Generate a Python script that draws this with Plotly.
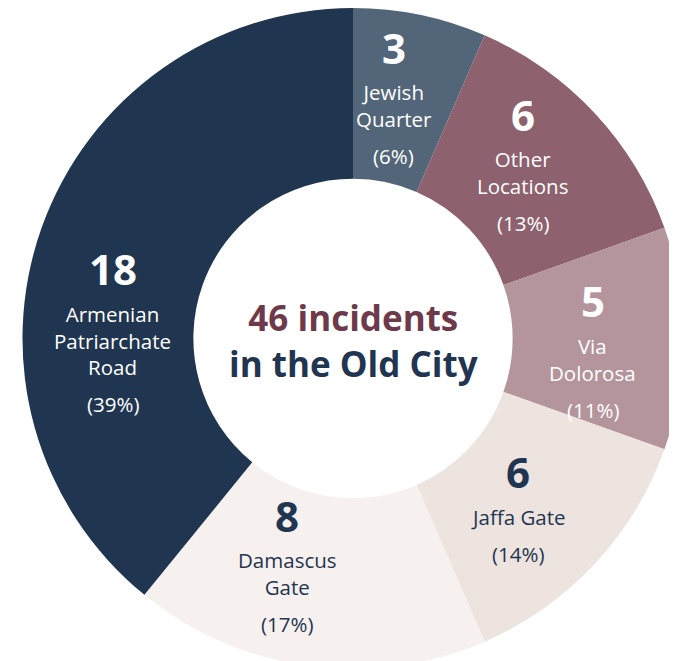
import math
import plotly.graph_objects as go

# ---- data ----
locations = ["Jewish Quarter", "Other Locations", "Via Dolorosa", "Jaffa Gate",
             "Damascus Gate", "Armenian Patriarchate Road"]
label_lines = [["Jewish", "Quarter"], ["Other", "Locations"], ["Via", "Dolorosa"],
               ["Jaffa Gate"], ["Damascus", "Gate"], ["Armenian", "Patriarchate", "Road"]]
incidents = [3, 6, 5, 6, 8, 18]
percent_labels = [6, 13, 11, 14, 17, 39]

# ---- styles ----
colors = ["#536679", "#8D616D", "#B4959B", "#EDE3DF", "#F6F0EE", "#1F3550"]
text_colors = ["#FFFFFF", "#FFFFFF", "#FFFFFF", "#1F3550", "#1F3550", "#FFFFFF"]
label_angle_shift = [-2, -2, 4, 3.5, 8, -19]   # degrees, label placement tweak
NAVY = "#1F3550"
MAROON = "#6E3A4B"
FONT = "'Open Sans', sans-serif"

W, H = 677, 661
CX, CY, HALF = 345, 330.5, 330.5      # pie domain centre / half-size in pixels
R_EFF = 324                           # rendered outer radius (approx)
HOLE = 0.483

fig = go.Figure(go.Pie(
    labels=locations,
    values=incidents,
    sort=False,
    direction="clockwise",
    rotation=0,
    hole=HOLE,
    marker=dict(colors=colors, line=dict(width=0)),
    textinfo="none",
    hoverinfo="label+value",
    showlegend=False,
    domain=dict(x=[(CX - HALF) / W, (CX + HALF) / W],
                y=[max(0, (H - CY - HALF) / H), min(1, (H - CY + HALF) / H)]),
))

total = sum(incidents)
r_lab = R_EFF * (1 + HOLE) / 2
NAME_SIZE, NUM_SIZE = 20.5, 42
LS = NAME_SIZE * 1.3                 # plotly multi-line spacing
NUM_GAP, PCT_GAP = 45, 37
annotations = []
cum = 0
for i, v in enumerate(incidents):
    mid = (cum + v / 2) / total * 2 * math.pi + math.radians(label_angle_shift[i])
    cum += v
    px = CX + r_lab * math.sin(mid)
    py = CY - r_lab * math.cos(mid)
    lines = label_lines[i]
    n = len(lines)
    y_num = 0
    y_names = NUM_GAP + (n - 1) * LS / 2
    y_pct = NUM_GAP + (n - 1) * LS + PCT_GAP
    mid_off = y_pct / 2
    items = [
        (f"<b>{v}</b>", y_num, NUM_SIZE),
        ("<br>".join(lines), y_names, NAME_SIZE),
        (f"({percent_labels[i]}%)", y_pct, NAME_SIZE),
    ]
    for t, o, s in items:
        annotations.append(dict(
            x=px / W, y=1 - py / H, xref="paper", yref="paper",
            text=t, showarrow=False, xanchor="center", yanchor="middle",
            yshift=-(o - mid_off),
            font=dict(family=FONT, size=s, color=text_colors[i]),
        ))

annotations.append(dict(
    x=CX / W, y=1 - (CY + 1.5) / H, xref="paper", yref="paper", showarrow=False,
    xanchor="center", yanchor="middle",
    text=f"<b><span style='color:{MAROON}'>{total} incidents</span><br>in the Old City</b>",
    font=dict(family=FONT, size=35, color=NAVY),
))

fig.update_layout(
    width=W, height=H,
    margin=dict(l=0, r=0, t=0, b=0),
    paper_bgcolor="white",
    plot_bgcolor="white",
    annotations=annotations,
)

fig.write_html("out.html")
